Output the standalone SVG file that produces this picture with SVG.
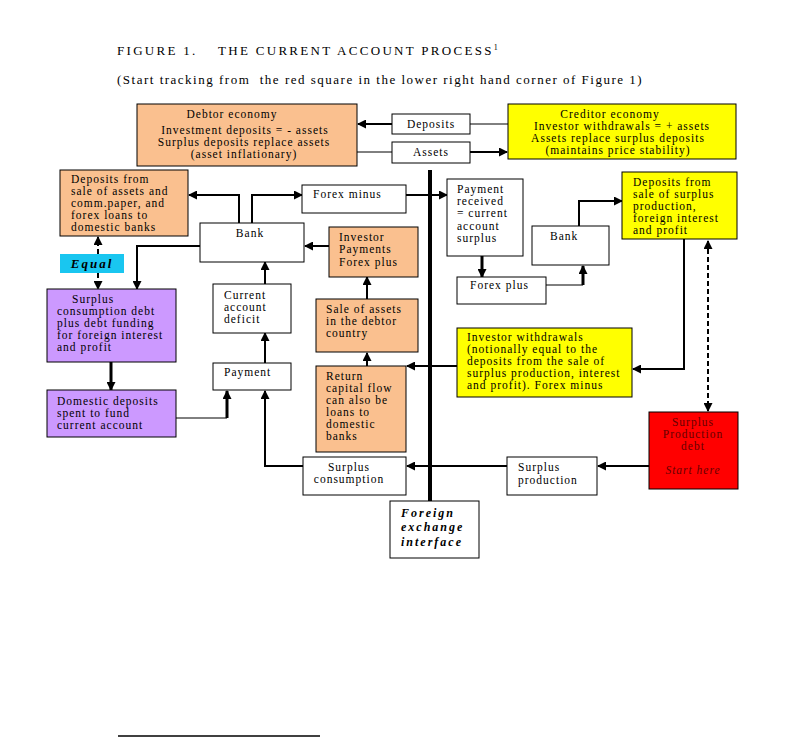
<svg xmlns="http://www.w3.org/2000/svg" width="800" height="738" viewBox="0 0 800 738">
<style>
.t{font-family:"Liberation Serif",serif;font-size:11.5px;letter-spacing:1px;fill:#000}
.c{text-anchor:middle}
.bx{stroke:#000;stroke-width:1}
.w{fill:#fff}.o{fill:#FAC08F}.y{fill:#FFFF00}.p{fill:#CC99FF}.r{fill:#FF0000}.cy{fill:#19C6F0}
.ln{fill:none;stroke:#000;stroke-width:2}
.th{fill:none;stroke:#000;stroke-width:1}
.dash{fill:none;stroke:#000;stroke-width:2;stroke-dasharray:5,3}
.bi{font-weight:bold;font-style:italic;letter-spacing:2px;font-size:12px}
</style>
<defs>
<marker id="a" markerUnits="userSpaceOnUse" markerWidth="9" markerHeight="9" refX="8" refY="4.5" orient="auto"><path d="M0,0 L9,4.5 L0,9 z" fill="#000"/></marker>
<marker id="s" markerUnits="userSpaceOnUse" markerWidth="9" markerHeight="9" refX="1" refY="4.5" orient="auto"><path d="M9,0 L0,4.5 L9,9 z" fill="#000"/></marker>
</defs>
<rect width="800" height="738" fill="#fff"/>
<text class="t" x="117" y="55" style="font-size:13px;letter-spacing:2.3px">FIGURE 1.</text>
<text class="t" x="218" y="55" style="font-size:13px;letter-spacing:2.3px">THE CURRENT ACCOUNT PROCESS<tspan dy="-5" style="font-size:8px;letter-spacing:0">1</tspan></text>
<text class="t" x="117" y="84" xml:space="preserve" style="font-size:13px;letter-spacing:1.5px">(Start tracking from  the red square in the lower right hand corner of Figure 1)</text>

<g id="connectors">
<path class="ln" d="M430,170 V501" style="stroke-width:4"/>
<path class="ln" d="M392,124 H358" marker-end="url(#a)"/>
<path class="th" d="M470,124 H508"/>
<path class="th" d="M357,152 H392"/>
<path class="ln" d="M470,152 H507" marker-end="url(#a)"/>
<path class="ln" d="M239,223 V195 H189" marker-end="url(#a)"/>
<path class="ln" d="M252,223 V195 H302" marker-end="url(#a)"/>
<path class="ln" d="M406,195 H447" marker-end="url(#a)"/>
<path class="ln" d="M329,246 H305" marker-end="url(#a)"/>
<path class="ln" d="M200,246 H137 V289" marker-end="url(#a)"/>
<path class="dash" d="M98,254 V237" marker-end="url(#a)"/>
<path class="dash" d="M98,273 V289" marker-end="url(#a)"/>
<path class="ln" d="M111,362 V390" style="stroke-width:3" marker-end="url(#a)"/>
<path class="th" d="M176,418 H227"/>
<path class="ln" d="M227,418 V391" style="stroke-width:3" marker-end="url(#a)"/>
<path class="ln" d="M265,363 V333" marker-end="url(#a)"/>
<path class="ln" d="M265,284 V262" marker-end="url(#a)"/>
<path class="ln" d="M303,466 H265 V391" marker-end="url(#a)"/>
<path class="ln" d="M367,299 V277" marker-end="url(#a)"/>
<path class="ln" d="M367,366 V353" marker-end="url(#a)"/>
<path class="ln" d="M457,366 H407" marker-end="url(#a)"/>
<path class="ln" d="M507,466 H407" marker-end="url(#a)"/>
<path class="ln" d="M649,466 H598" marker-end="url(#a)"/>
<path class="ln" d="M684,239 V369 H633" marker-end="url(#a)"/>
<path class="dash" d="M708,241 V411" marker-start="url(#s)" marker-end="url(#a)"/>
<path class="ln" d="M482,256 V277" style="stroke-width:3" marker-end="url(#a)"/>
<path class="th" d="M546,285 H583"/>
<path class="ln" d="M583,285 V266" style="stroke-width:3" marker-end="url(#a)"/>
<path class="ln" d="M579,226 V201 H622" marker-end="url(#a)"/>
<path class="ln" d="M118,736 H320" style="stroke-width:1.5"/>
</g>

<g id="debtor"><rect class="bx o" x="137" y="104" width="220" height="62"/>
<text class="t c" x="232" y="118">Debtor economy</text>
<text class="t c" x="245" y="134">Investment deposits = - assets</text>
<text class="t c" x="244" y="146">Surplus deposits replace assets</text>
<text class="t c" x="244" y="158">(asset inflationary)</text></g>

<g id="deposits"><rect class="bx w" x="392" y="114" width="78" height="20"/>
<text class="t c" x="431" y="128">Deposits</text></g>
<g id="assets"><rect class="bx w" x="392" y="142" width="78" height="21"/>
<text class="t c" x="431" y="156">Assets</text></g>

<g id="creditor"><rect class="bx y" x="508" y="104" width="228" height="55"/>
<text class="t c" x="610" y="118">Creditor economy</text>
<text class="t c" x="622" y="130">Investor withdrawals = + assets</text>
<text class="t c" x="618" y="142">Assets replace surplus deposits</text>
<text class="t c" x="618" y="154">(maintains price stability)</text></g>

<g id="deposits-sale"><rect class="bx o" x="60" y="170" width="128" height="66"/>
<text class="t" x="71" y="183">Deposits from</text>
<text class="t" x="71" y="195">sale of assets and</text>
<text class="t" x="71" y="207">comm.paper, and</text>
<text class="t" x="71" y="219">forex loans to</text>
<text class="t" x="71" y="231">domestic banks</text></g>

<g id="equal"><rect x="60" y="254" width="64" height="19" class="cy"/>
<text class="t bi c" x="92" y="268" style="font-size:13px">Equal</text></g>

<g id="bank-left"><rect class="bx w" x="200" y="223" width="104" height="39"/>
<text class="t c" x="250" y="237">Bank</text></g>

<g id="forex-minus"><rect class="bx w" x="302" y="185" width="104" height="28"/>
<text class="t" x="313" y="198">Forex minus</text></g>

<g id="investor-payments"><rect class="bx o" x="329" y="227" width="89" height="50"/>
<text class="t" x="339" y="241">Investor</text>
<text class="t" x="339" y="253">Payments</text>
<text class="t" x="339" y="266">Forex plus</text></g>

<g id="surplus-cons-debt"><rect class="bx p" x="47" y="289" width="129" height="73"/>
<text class="t" x="72" y="303">Surplus</text>
<text class="t" x="57" y="315">consumption debt</text>
<text class="t" x="57" y="327">plus debt funding</text>
<text class="t" x="57" y="339">for foreign interest</text>
<text class="t" x="57" y="351">and profit</text></g>

<g id="domestic-deposits"><rect class="bx p" x="47" y="390" width="129" height="47"/>
<text class="t" x="57" y="405">Domestic deposits</text>
<text class="t" x="57" y="417">spent to fund</text>
<text class="t" x="57" y="429">current account</text></g>

<g id="cad"><rect class="bx w" x="213" y="284" width="78" height="49"/>
<text class="t" x="224" y="299">Current</text>
<text class="t" x="224" y="311">account</text>
<text class="t" x="224" y="323">deficit</text></g>

<g id="payment"><rect class="bx w" x="213" y="363" width="78" height="27"/>
<text class="t" x="224" y="376">Payment</text></g>

<g id="sale-assets"><rect class="bx o" x="316" y="299" width="102" height="53"/>
<text class="t" x="326" y="313">Sale of assets</text>
<text class="t" x="326" y="325">in the debtor</text>
<text class="t" x="326" y="337">country</text></g>

<g id="return-capital"><rect class="bx o" x="316" y="366" width="90" height="86"/>
<text class="t" x="326" y="380">Return</text>
<text class="t" x="326" y="392">capital flow</text>
<text class="t" x="326" y="404">can also be</text>
<text class="t" x="326" y="416">loans to</text>
<text class="t" x="326" y="428">domestic</text>
<text class="t" x="326" y="440">banks</text></g>

<g id="surplus-consumption"><rect class="bx w" x="303" y="457" width="103" height="38"/>
<text class="t c" x="349" y="471">Surplus</text>
<text class="t c" x="349" y="483">consumption</text></g>

<g id="fx-interface"><rect class="bx w" x="390" y="501" width="89" height="57"/>
<text class="t bi" x="401" y="517">Foreign</text>
<text class="t bi" x="401" y="531">exchange</text>
<text class="t bi" x="401" y="546">interface</text></g>

<g id="payment-received"><rect class="bx w" x="447" y="179" width="76" height="77"/>
<text class="t" x="457" y="193">Payment</text>
<text class="t" x="457" y="205">received</text>
<text class="t" x="457" y="217">= current</text>
<text class="t" x="457" y="230">account</text>
<text class="t" x="457" y="242">surplus</text></g>

<g id="forex-plus"><rect class="bx w" x="457" y="277" width="89" height="27"/>
<text class="t" x="470" y="289">Forex plus</text></g>

<g id="bank-right"><rect class="bx w" x="532" y="226" width="77" height="39"/>
<text class="t" x="550" y="240">Bank</text></g>

<g id="deposits-surplus"><rect class="bx y" x="622" y="172" width="115" height="67"/>
<text class="t" x="633" y="186">Deposits from</text>
<text class="t" x="633" y="198">sale of surplus</text>
<text class="t" x="633" y="210">production,</text>
<text class="t" x="633" y="222">foreign interest</text>
<text class="t" x="633" y="234">and profit</text></g>

<g id="investor-withdrawals"><rect class="bx y" x="457" y="328" width="175" height="69"/>
<text class="t" x="467" y="341">Investor withdrawals</text>
<text class="t" x="467" y="353">(notionally equal to the</text>
<text class="t" x="467" y="365">deposits from the sale of</text>
<text class="t" x="467" y="377">surplus production, interest</text>
<text class="t" x="467" y="389">and profit). Forex minus</text></g>

<g id="surplus-production-debt"><rect class="bx r" x="649" y="412" width="89" height="77"/>
<text class="t c" x="693" y="426" style="fill:#660000">Surplus</text>
<text class="t c" x="693" y="438" style="fill:#660000">Production</text>
<text class="t c" x="693" y="450" style="fill:#660000">debt</text>
<text class="t c" x="693" y="474" style="fill:#660000;font-style:italic">Start here</text></g>

<g id="surplus-production"><rect class="bx w" x="507" y="457" width="90" height="38"/>
<text class="t" x="518" y="471">Surplus</text>
<text class="t" x="518" y="484">production</text></g>
</svg>
